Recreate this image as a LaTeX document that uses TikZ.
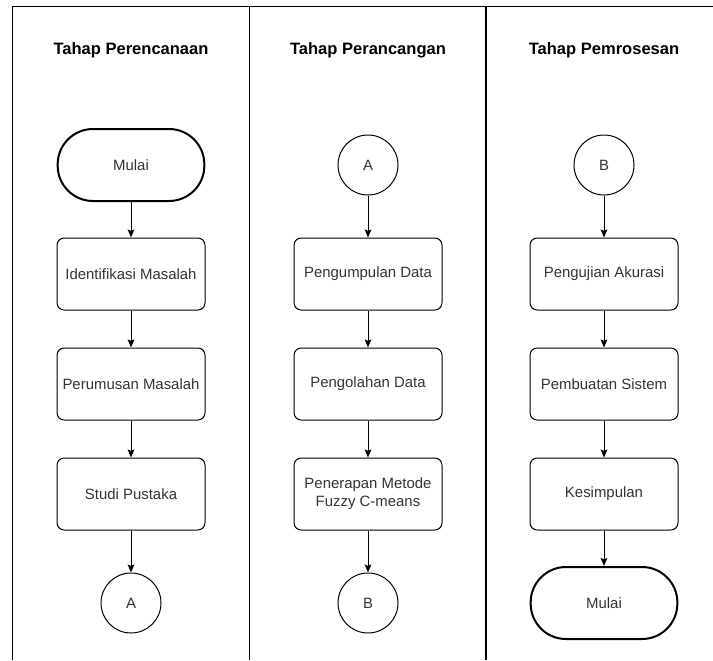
\documentclass[tikz,border=0pt]{standalone}
\usepackage{fontspec}
\setmainfont{Liberation Sans}
\usetikzlibrary{arrows.meta}
\definecolor{txt}{RGB}{51,51,51}
\begin{document}
\begin{tikzpicture}[x=0.75pt,y=-0.75pt,
  stepbox/.style={draw=black,line width=0.75pt,rounded corners=5.4pt,minimum width=111pt,minimum height=54pt,align=center,font=\fontsize{11.2}{13.5}\selectfont,text=txt,inner sep=1pt},
  conn/.style={draw=black,line width=0.75pt,circle,minimum size=45pt,inner sep=0pt,font=\fontsize{11.2}{13.5}\selectfont,text=txt},
  term/.style={draw=black,line width=1.5pt,rectangle,rounded corners=26.5pt,minimum width=110pt,minimum height=54pt,font=\fontsize{11.2}{13.5}\selectfont,text=txt},
  title/.style={font=\bfseries\fontsize{12.4}{15}\selectfont,text=black},
  arr/.style={-{Stealth[length=6pt,width=5pt,inset=1pt]},line width=0.75pt,black},
  frame/.style={line width=0.75pt,black}]
\useasboundingbox (0,0) rectangle (713,660);
% frame
\draw[frame] (12,660) -- (12,7) -- (713,7);
\draw[frame] (249,7) -- (249,660);
\draw[line width=1.5pt] (486,7) -- (486,660);
% titles
\node[title] (t1) at (131,50) {Tahap Perencanaan};
\node[title] (t2) at (368,50) {Tahap Perancangan};
\node[title] (t3) at (604,50) {Tahap Pemrosesan};
% column 1
\node[term] (m1) at (131,165) {Mulai};
\node[stepbox] (a1) at (131,274) {Identifikasi Masalah};
\node[stepbox] (a2) at (131,384) {Perumusan Masalah};
\node[stepbox] (a3) at (131,494) {Studi Pustaka};
\node[conn] (ca1) at (131,603) {A};
% column 2
\node[conn] (ca2) at (368,165) {A};
\node[stepbox] (b1) at (368,274) {Pengumpulan Data};
\node[stepbox] (b2) at (368,384) {Pengolahan Data};
\node[stepbox] (b3) at (368,494) {Penerapan Metode\\Fuzzy C-means};
\node[conn] (cb1) at (368,603) {B};
% column 3
\node[conn] (cb2) at (604,165) {B};
\node[stepbox] (c1) at (604,274) {Pengujian Akurasi};
\node[stepbox] (c2) at (604,384) {Pembuatan Sistem};
\node[stepbox] (c3) at (604,494) {Kesimpulan};
\node[term] (m2) at (604,603) {Mulai};
% arrows
\draw[arr] (m1) -- (a1);
\draw[arr] (a1) -- (a2);
\draw[arr] (a2) -- (a3);
\draw[arr] (a3) -- (ca1);
\draw[arr] (ca2) -- (b1);
\draw[arr] (b1) -- (b2);
\draw[arr] (b2) -- (b3);
\draw[arr] (b3) -- (cb1);
\draw[arr] (cb2) -- (c1);
\draw[arr] (c1) -- (c2);
\draw[arr] (c2) -- (c3);
\draw[arr] (c3) -- (m2);
\end{tikzpicture}
\end{document}
